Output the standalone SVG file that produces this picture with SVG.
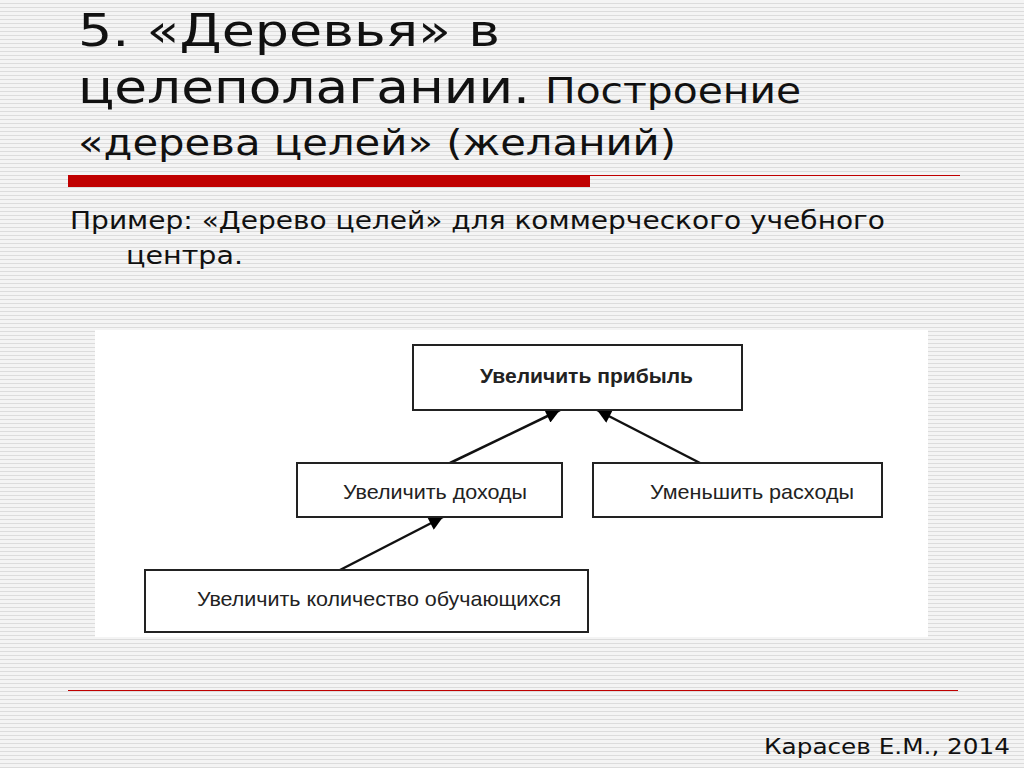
<svg xmlns="http://www.w3.org/2000/svg" width="1024" height="768" viewBox="0 0 1024 768">
<defs>
<pattern id="st" width="8" height="4" patternUnits="userSpaceOnUse"><rect width="8" height="4" fill="#f4f4f4"/><rect y="3" width="8" height="1" fill="#dcdcdc"/></pattern>
<marker id="ah" viewBox="0 0 10 10" refX="10" refY="5" markerWidth="18" markerHeight="14" markerUnits="userSpaceOnUse" orient="auto"><path d="M0,0 L10,5 L0,10 z" fill="#000"/></marker>
<style>
.t{font-family:"DejaVu Sans",sans-serif;fill:#111}
.b{fill:#fff;stroke:#222;stroke-width:2}
.n{font-family:"Liberation Sans Narrow","Liberation Sans",sans-serif;font-size:21px;fill:#222}
.c{stroke:#111;stroke-width:2.5;fill:none;marker-end:url(#ah)}
</style>
</defs>
<rect width="1024" height="768" fill="url(#st)"/>
<text class="t" x="78" y="46" font-size="44" textLength="422" lengthAdjust="spacingAndGlyphs">5. «Деревья» в</text>
<text class="t" x="78" y="103" font-size="46" textLength="452" lengthAdjust="spacingAndGlyphs">целеполагании.</text>
<text class="t" x="545" y="103" font-size="36" textLength="256" lengthAdjust="spacingAndGlyphs">Построение</text>
<text class="t" x="78" y="155" font-size="36" textLength="598" lengthAdjust="spacingAndGlyphs">«дерева целей» (желаний)</text>
<rect x="68" y="175" width="522" height="12" fill="#c00000"/>
<line x1="590" y1="175.5" x2="960" y2="175.5" stroke="#c00000" stroke-width="1"/>
<text class="t" x="70" y="229" font-size="25" textLength="815" lengthAdjust="spacingAndGlyphs">Пример: «Дерево целей» для коммерческого учебного</text>
<text class="t" x="126" y="264" font-size="25" textLength="117" lengthAdjust="spacingAndGlyphs">центра.</text>
<rect x="95" y="330" width="833" height="307" fill="#fff"/>
<g id="connectors">
<line class="c" x1="450" y1="463" x2="560" y2="410"/>
<line class="c" x1="700" y1="463" x2="597" y2="410"/>
<line class="c" x1="340" y1="570" x2="443" y2="517"/>
</g>
<g id="n1"><rect class="b" x="413" y="345" width="329" height="65"/><text class="n" x="480" y="383" font-weight="bold" textLength="213" lengthAdjust="spacingAndGlyphs">Увеличить прибыль</text></g>
<g id="n2"><rect class="b" x="297" y="463" width="265" height="54"/><text class="n" x="343" y="499" textLength="184" lengthAdjust="spacingAndGlyphs">Увеличить доходы</text></g>
<g id="n3"><rect class="b" x="593" y="463" width="289" height="54"/><text class="n" x="650" y="499" textLength="204" lengthAdjust="spacingAndGlyphs">Уменьшить расходы</text></g>
<g id="n4"><rect class="b" x="145" y="570" width="443" height="62"/><text class="n" x="197" y="606" textLength="364" lengthAdjust="spacingAndGlyphs">Увеличить количество обучающихся</text></g>
<line x1="68" y1="690.5" x2="958" y2="690.5" stroke="#c00000" stroke-width="1"/>
<text class="t" x="764" y="754" font-size="22" textLength="246" lengthAdjust="spacingAndGlyphs">Карасев Е.М., 2014</text>
</svg>
